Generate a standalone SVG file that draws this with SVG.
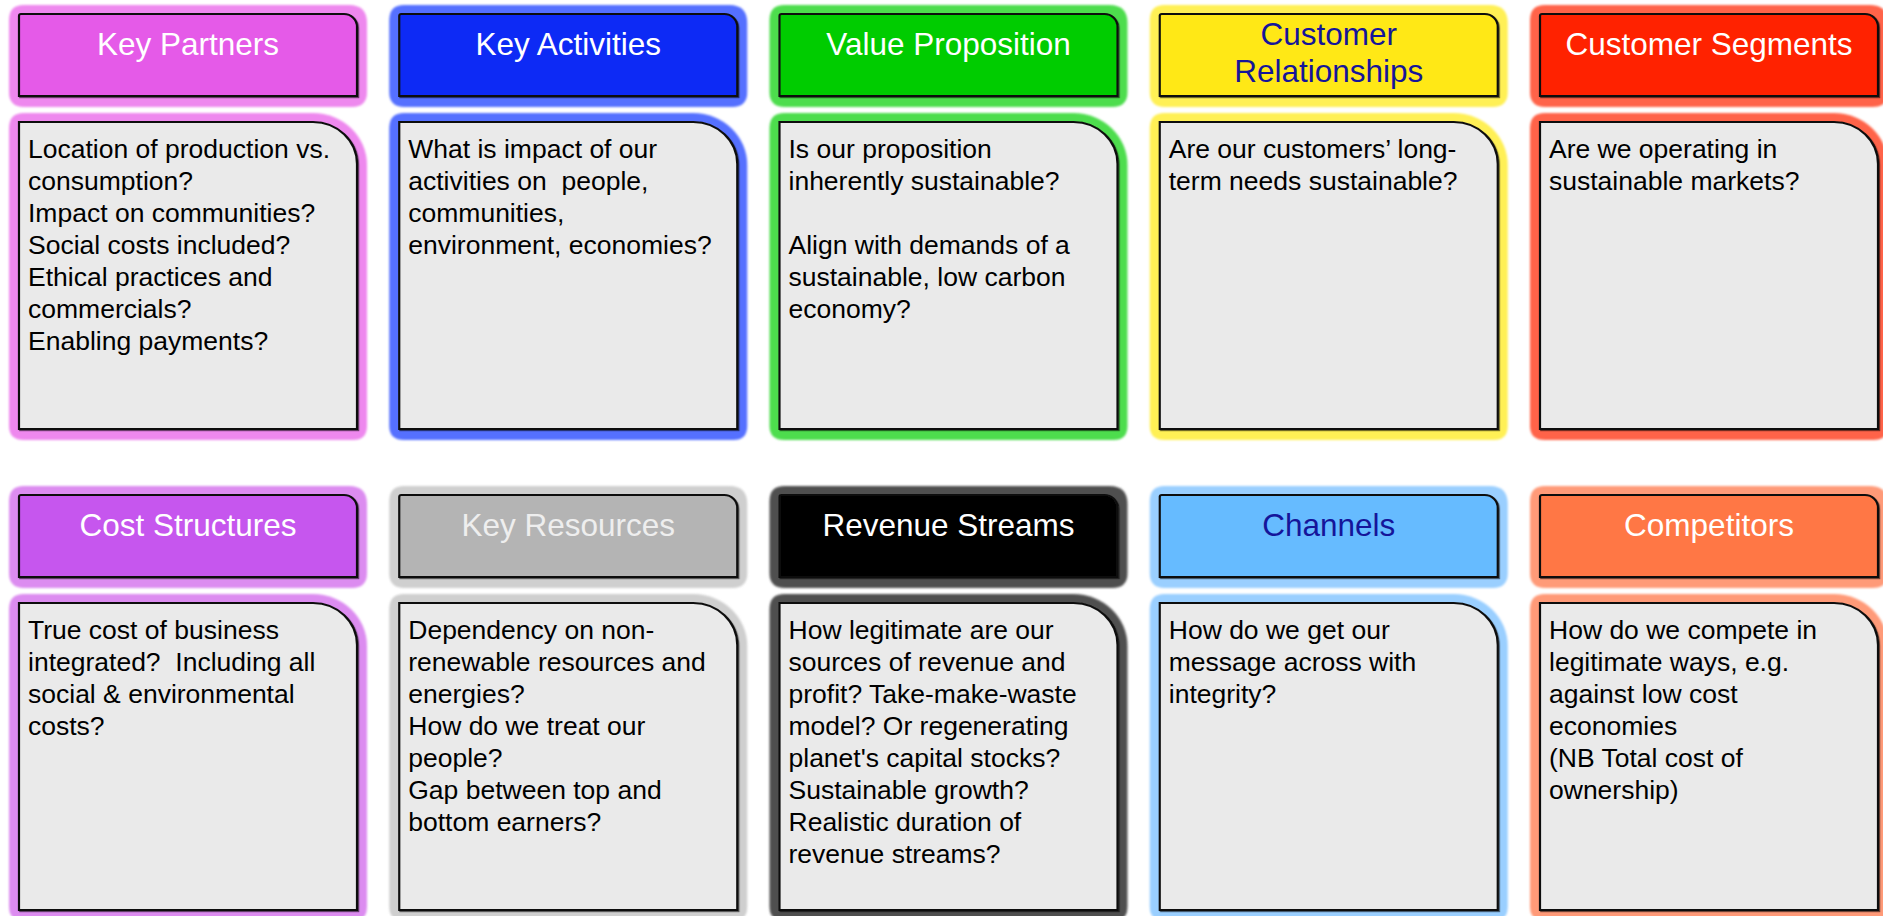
<svg xmlns="http://www.w3.org/2000/svg" xmlns:xlink="http://www.w3.org/1999/xlink" width="1883" height="916" viewBox="0 0 1883 916">
<style>
.hd{stroke:#111;stroke-width:2.2;filter:url(#sh)}
.bd{fill:#EAEAEA;stroke:#111;stroke-width:2.2;filter:url(#sh)}
.gl{filter:url(#soft)}
.ht{font-family:"Liberation Sans",Arial,sans-serif;font-size:31.5px;text-anchor:middle;fill:#fff}
.bt{font-family:"Liberation Sans",Arial,sans-serif;font-size:26.5px;fill:#000}
.navy{fill:#15159A}
</style>
<defs>
<filter id="soft" x="-10%" y="-10%" width="120%" height="120%"><feGaussianBlur stdDeviation="1.3"/></filter>
<filter id="sh" x="-5%" y="-5%" width="110%" height="110%"><feDropShadow dx="1.2" dy="1.2" stdDeviation="0.7" flood-color="#000" flood-opacity="0.55"/></filter>
<path id="hglow" d="M-10,6 Q-10,-9 5,-9 H330 Q348,-9 348,9 V78 Q348,93 333,93 H5 Q-10,93 -10,78 Z"/>
<path id="hbox" d="M0,2 Q0,0 2,0 H325 A13,13 0 0 1 338,13 V82 H0 Z"/>
<path id="bglow" d="M-10,6 Q-10,-9 5,-9 H294 A54,52 0 0 1 348,43 V304 Q348,318 334,318 H5 Q-10,318 -10,304 Z"/>
<path id="bbox" d="M0,0 H294 A44,42 0 0 1 338,42 V307 H0 Z"/>
</defs>
<rect width="1883" height="916" fill="#fff"/>
<g id="connectors"/>

<g id="key-partners" transform="translate(19,14)">
<use xlink:href="#hglow" class="gl" fill="#EE88EE"/>
<use xlink:href="#bglow" class="gl" fill="#EE88EE" y="108"/>
<use xlink:href="#hbox" class="hd" fill="#E55AE8"/>
<use xlink:href="#bbox" class="bd" y="108"/>
<text class="ht" x="169" y="41">Key Partners</text>
<text class="bt" x="9" y="144"><tspan x="9">Location of production vs.</tspan><tspan x="9" dy="32">consumption?</tspan><tspan x="9" dy="32">Impact on communities?</tspan><tspan x="9" dy="32">Social costs included?</tspan><tspan x="9" dy="32">Ethical practices and</tspan><tspan x="9" dy="32">commercials?</tspan><tspan x="9" dy="32">Enabling payments?</tspan></text>
</g>

<g id="key-activities" transform="translate(399.25,14)">
<use xlink:href="#hglow" class="gl" fill="#5470FF"/>
<use xlink:href="#bglow" class="gl" fill="#5470FF" y="108"/>
<use xlink:href="#hbox" class="hd" fill="#0A2BF5"/>
<use xlink:href="#bbox" class="bd" y="108"/>
<text class="ht" x="169" y="41">Key Activities</text>
<text class="bt" x="9" y="144" xml:space="preserve"><tspan x="9">What is impact of our</tspan><tspan x="9" dy="32">activities on  people,</tspan><tspan x="9" dy="32">communities,</tspan><tspan x="9" dy="32">environment, economies?</tspan></text>
</g>

<g id="value-proposition" transform="translate(779.5,14)">
<use xlink:href="#hglow" class="gl" fill="#4EDD4E"/>
<use xlink:href="#bglow" class="gl" fill="#4EDD4E" y="108"/>
<use xlink:href="#hbox" class="hd" fill="#00CC00"/>
<use xlink:href="#bbox" class="bd" y="108"/>
<text class="ht" x="169" y="41">Value Proposition</text>
<text class="bt" x="9" y="144"><tspan x="9">Is our proposition</tspan><tspan x="9" dy="32">inherently sustainable?</tspan><tspan x="9" dy="64">Align with demands of a</tspan><tspan x="9" dy="32">sustainable, low carbon</tspan><tspan x="9" dy="32">economy?</tspan></text>
</g>

<g id="customer-relationships" transform="translate(1159.75,14)">
<use xlink:href="#hglow" class="gl" fill="#FFF055"/>
<use xlink:href="#bglow" class="gl" fill="#FFF055" y="108"/>
<use xlink:href="#hbox" class="hd" fill="#FFE818"/>
<use xlink:href="#bbox" class="bd" y="108"/>
<text class="ht navy" x="169" y="31"><tspan x="169">Customer</tspan><tspan x="169" dy="37">Relationships</tspan></text>
<text class="bt" x="9" y="144"><tspan x="9">Are our customers’ long-</tspan><tspan x="9" dy="32">term needs sustainable?</tspan></text>
</g>

<g id="customer-segments" transform="translate(1540,14)">
<use xlink:href="#hglow" class="gl" fill="#FF6448"/>
<use xlink:href="#bglow" class="gl" fill="#FF6448" y="108"/>
<use xlink:href="#hbox" class="hd" fill="#FF2200"/>
<use xlink:href="#bbox" class="bd" y="108"/>
<text class="ht" x="169" y="41">Customer Segments</text>
<text class="bt" x="9" y="144"><tspan x="9">Are we operating in</tspan><tspan x="9" dy="32">sustainable markets?</tspan></text>
</g>

<g id="cost-structures" transform="translate(19,495)">
<use xlink:href="#hglow" class="gl" fill="#DC8CF0"/>
<use xlink:href="#bglow" class="gl" fill="#DC8CF0" y="108"/>
<use xlink:href="#hbox" class="hd" fill="#C657EE"/>
<use xlink:href="#bbox" class="bd" y="108"/>
<text class="ht" x="169" y="41">Cost Structures</text>
<text class="bt" x="9" y="144" xml:space="preserve"><tspan x="9">True cost of business</tspan><tspan x="9" dy="32">integrated?  Including all</tspan><tspan x="9" dy="32">social &amp; environmental</tspan><tspan x="9" dy="32">costs?</tspan></text>
</g>

<g id="key-resources" transform="translate(399.25,495)">
<use xlink:href="#hglow" class="gl" fill="#CFCFCF"/>
<use xlink:href="#bglow" class="gl" fill="#CFCFCF" y="108"/>
<use xlink:href="#hbox" class="hd" fill="#B4B4B4"/>
<use xlink:href="#bbox" class="bd" y="108"/>
<text class="ht" x="169" y="41" style="fill:#EEEEEE">Key Resources</text>
<text class="bt" x="9" y="144"><tspan x="9">Dependency on non-</tspan><tspan x="9" dy="32">renewable resources and</tspan><tspan x="9" dy="32">energies?</tspan><tspan x="9" dy="32">How do we treat our</tspan><tspan x="9" dy="32">people?</tspan><tspan x="9" dy="32">Gap between top and</tspan><tspan x="9" dy="32">bottom earners?</tspan></text>
</g>

<g id="revenue-streams" transform="translate(779.5,495)">
<use xlink:href="#hglow" class="gl" fill="#505050"/>
<use xlink:href="#bglow" class="gl" fill="#505050" y="108"/>
<use xlink:href="#hbox" class="hd" fill="#000000"/>
<use xlink:href="#bbox" class="bd" y="108"/>
<text class="ht" x="169" y="41">Revenue Streams</text>
<text class="bt" x="9" y="144"><tspan x="9">How legitimate are our</tspan><tspan x="9" dy="32">sources of revenue and</tspan><tspan x="9" dy="32">profit? Take-make-waste</tspan><tspan x="9" dy="32">model? Or regenerating</tspan><tspan x="9" dy="32">planet's capital stocks?</tspan><tspan x="9" dy="32">Sustainable growth?</tspan><tspan x="9" dy="32">Realistic duration of</tspan><tspan x="9" dy="32">revenue streams?</tspan></text>
</g>

<g id="channels" transform="translate(1159.75,495)">
<use xlink:href="#hglow" class="gl" fill="#9ACFFF"/>
<use xlink:href="#bglow" class="gl" fill="#9ACFFF" y="108"/>
<use xlink:href="#hbox" class="hd" fill="#66BBFF"/>
<use xlink:href="#bbox" class="bd" y="108"/>
<text class="ht navy" x="169" y="41">Channels</text>
<text class="bt" x="9" y="144"><tspan x="9">How do we get our</tspan><tspan x="9" dy="32">message across with</tspan><tspan x="9" dy="32">integrity?</tspan></text>
</g>

<g id="competitors" transform="translate(1540,495)">
<use xlink:href="#hglow" class="gl" fill="#FF9A78"/>
<use xlink:href="#bglow" class="gl" fill="#FF9A78" y="108"/>
<use xlink:href="#hbox" class="hd" fill="#FF7744"/>
<use xlink:href="#bbox" class="bd" y="108"/>
<text class="ht" x="169" y="41">Competitors</text>
<text class="bt" x="9" y="144"><tspan x="9">How do we compete in</tspan><tspan x="9" dy="32">legitimate ways, e.g.</tspan><tspan x="9" dy="32">against low cost</tspan><tspan x="9" dy="32">economies</tspan><tspan x="9" dy="32">(NB Total cost of</tspan><tspan x="9" dy="32">ownership)</tspan></text>
</g>
</svg>
